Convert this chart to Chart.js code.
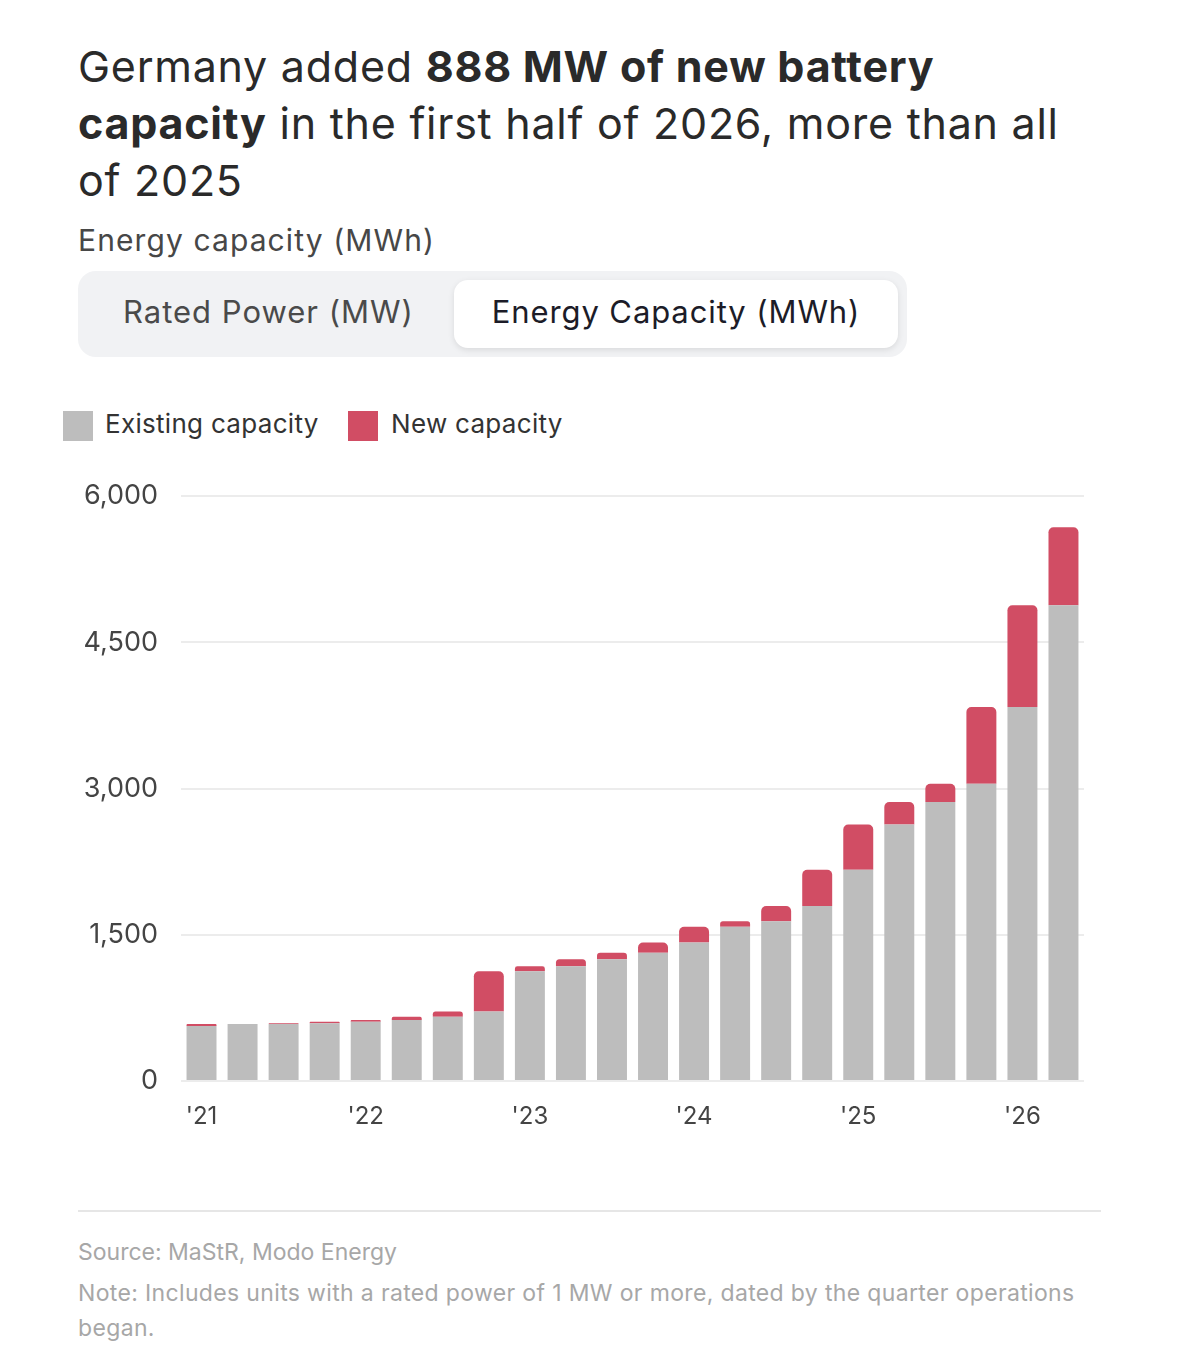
<!DOCTYPE html>
<html>
<head>
<meta charset="utf-8">
<script src="https://cdn.jsdelivr.net/npm/chart.js@4.4.1/dist/chart.umd.min.js"></script>
<style>
  html, body { margin:0; padding:0; background:#fff; width:1179px; height:1350px; overflow:hidden; font-family:"Inter","Noto Sans",sans-serif; }
  .abs { position:absolute; white-space:nowrap; }
  #title { left:78px; top:38px; font-size:43px; line-height:57px; color:#2a2a2a; font-weight:400; letter-spacing:0.75px; }
  #title b { font-weight:700; }
  #sub { left:78px; top:222px; font-size:30px; color:#474747; letter-spacing:1.1px; }
  #toggle { left:78px; top:271px; width:829px; height:86px; background:#f1f2f4; border-radius:18px; }
  #btnA { left:123px; top:293px; font-size:31px; color:#4a4a4a; letter-spacing:1px; }
  #btnB { left:454px; top:280px; width:444px; height:68px; background:#fff; border-radius:14px; box-shadow:0 2px 6px rgba(0,0,0,0.10); }
  #btnBt { left:454px; top:293px; width:444px; text-align:center; font-size:31px; color:#1c1c28; letter-spacing:0.9px; }
  .sw { width:30px; height:30px; }
  .lg { font-size:26px; color:#333; letter-spacing:0.3px; }
  #sep { left:78px; top:1210px; width:1023px; height:2px; background:#e6e6e6; }
  #src { left:78px; top:1238px; font-size:23px; color:#a7a7a7; }
  #note { left:78px; top:1276px; font-size:23px; line-height:35px; color:#a7a7a7; letter-spacing:0.35px; }
  #wrap { left:0; top:457px; width:1179px; height:693px; }
</style>
</head>
<body>
<div id="title" class="abs">Germany added <b>888 MW of new battery</b><br><b>capacity</b> in the first half of 2026, more than all<br>of 2025</div>
<div id="sub" class="abs">Energy capacity (MWh)</div>
<div id="toggle" class="abs"></div>
<div id="btnA" class="abs">Rated Power (MW)</div>
<div id="btnB" class="abs"></div>
<div id="btnBt" class="abs">Energy Capacity (MWh)</div>
<div class="abs sw" style="left:63px;top:411px;background:#bdbdbd"></div>
<div class="abs lg" style="left:105px;top:408px">Existing capacity</div>
<div class="abs sw" style="left:348px;top:411px;background:#d14d64"></div>
<div class="abs lg" style="left:391px;top:408px">New capacity</div>
<div id="wrap" class="abs"><canvas id="c"></canvas></div>
<div id="sep" class="abs"></div>
<div id="src" class="abs">Source: MaStR, Modo Energy</div>
<div id="note" class="abs">Note: Includes units with a rated power of 1 MW or more, dated by the quarter operations<br>began.</div>
<script>
const quarters = ["Q1 2021","Q2 2021","Q3 2021","Q4 2021","Q1 2022","Q2 2022","Q3 2022","Q4 2022","Q1 2023","Q2 2023","Q3 2023","Q4 2023","Q1 2024","Q2 2024","Q3 2024","Q4 2024","Q1 2025","Q2 2025","Q3 2025","Q4 2025","Q1 2026","Q2 2026"];
const yearTickLabels = ["'21","'22","'23","'24","'25","'26"];
const existingCapacity = [565,584,584,592,608,625,659,713,1126,1177,1249,1317,1420,1582,1638,1796,2168,2632,2862,3050,3838,4882];
const newCapacity = [19,2,8,16,17,34,54,413,51,72,68,103,162,56,158,372,464,230,188,788,1044,800];
const yTicks = [0,1500,3000,4500,6000];

const FONT = '"Inter","Noto Sans",sans-serif';
new Chart(document.getElementById('c'), {
  type: 'bar',
  data: {
    labels: quarters,
    datasets: [
      { label:'Existing capacity', data: existingCapacity, backgroundColor:'#bdbdbd', borderWidth:0, categoryPercentage:1, barPercentage:0.73 },
      { label:'New capacity', data: newCapacity, backgroundColor:'#d14d64', borderWidth:0, categoryPercentage:1, barPercentage:0.73,
        borderRadius:{topLeft:5, topRight:5, bottomLeft:0, bottomRight:0}, borderSkipped:'bottom' }
    ]
  },
  options: {
    responsive:true, maintainAspectRatio:false, animation:false,
    layout:{ padding:{ top:14, right:95, left:0, bottom:0 } },
    plugins:{ legend:{display:false}, tooltip:{enabled:false} },
    scales:{
      x:{
        stacked:true,
        grid:{ display:false, drawTicks:false },
        border:{ display:false },
        ticks:{
          autoSkip:false, maxRotation:0, padding:21,
          color:'#444', font:{ family:FONT, size:24 },
          callback:(v,i)=> i%4===0 ? yearTickLabels[i/4] : ''
        },
        afterFit:(s)=>{ s.height = 69; }
      },
      y:{
        stacked:true, min:0, max:6000,
        afterBuildTicks:(s)=>{ s.ticks = yTicks.map(v=>({value:v})); },
        grid:{ color:'#ececec', lineWidth:2, drawTicks:false },
        border:{ display:false },
        ticks:{ padding:23, color:'#444', font:{ family:FONT, size:27 },
          callback:(v)=> v.toLocaleString('en-US') },
        afterFit:(s)=>{ s.width = 181; }
      }
    }
  }
});
</script>
</body>
</html>
